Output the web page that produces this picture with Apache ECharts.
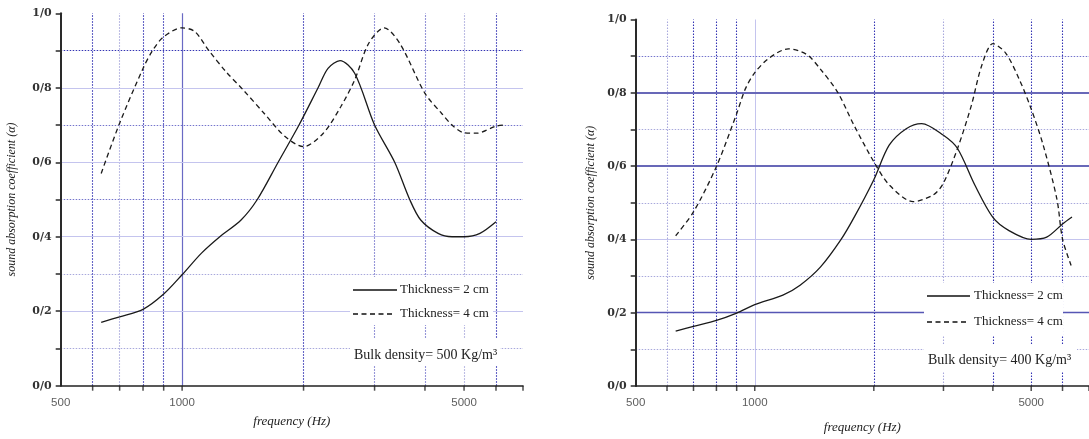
<!DOCTYPE html>
<html>
<head>
<meta charset="utf-8">
<script src="https://cdn.jsdelivr.net/npm/echarts@6/dist/echarts.min.js"></script>
<style>html,body{margin:0;padding:0;background:#fff;}#c{width:1089px;height:439px;}</style>
</head>
<body>
<div id="c"></div>
<script>
// ---- data ----
const freqTicks = [600, 700, 800, 900, 1000, 2000, 3000, 4000, 5000, 6000, 7000];
const freqLabels = [500, 1000, 5000];
const gridFreqs = [600, 700, 800, 900, 1000, 2000, 3000, 4000, 5000, 6000];
const gridAlphas = [0.1, 0.2, 0.3, 0.4, 0.5, 0.6, 0.7, 0.8, 0.9];

const leftFreq2  = [630, 700, 800, 900, 1000, 1117, 1240, 1400, 1536, 1730, 1949, 2173, 2300, 2463, 2678, 3000, 3365, 3666, 3904, 4312, 4668, 5000, 5475, 6000];
const leftAlpha2 = [0.170, 0.185, 0.205, 0.246, 0.298, 0.356, 0.400, 0.445, 0.500, 0.600, 0.700, 0.800, 0.852, 0.873, 0.839, 0.700, 0.600, 0.500, 0.445, 0.409, 0.400, 0.400, 0.409, 0.440];
const leftFreq4  = [630, 700, 800, 846, 900, 1000, 1075, 1163, 1285, 1418, 1598, 1800, 2000, 2239, 2473, 2678, 2900, 3170, 3466, 4000, 4400, 4668, 5000, 5366, 6000, 6250];
const leftAlpha4 = [0.570, 0.705, 0.852, 0.901, 0.937, 0.961, 0.951, 0.901, 0.843, 0.794, 0.731, 0.669, 0.642, 0.678, 0.749, 0.821, 0.919, 0.961, 0.919, 0.785, 0.731, 0.700, 0.679, 0.678, 0.697, 0.700];

const rightFreq2  = [631, 700, 800, 900, 1000, 1178, 1302, 1467, 1653, 1783, 2000, 2187, 2415, 2642, 3000, 3256, 3598, 4000, 4393, 5000, 5471, 6000, 6340];
const rightAlpha2 = [0.150, 0.163, 0.179, 0.199, 0.222, 0.248, 0.275, 0.325, 0.400, 0.460, 0.563, 0.657, 0.702, 0.716, 0.684, 0.648, 0.549, 0.460, 0.424, 0.400, 0.406, 0.442, 0.461];
const rightFreq4  = [631, 700, 800, 900, 946, 1000, 1088, 1216, 1355, 1467, 1621, 1783, 2000, 2187, 2513, 2832, 3000, 3256, 3528, 3745, 4000, 4305, 4663, 5000, 5362, 5807, 6000, 6308];
const rightAlpha4 = [0.410, 0.475, 0.599, 0.743, 0.810, 0.855, 0.895, 0.920, 0.904, 0.864, 0.801, 0.711, 0.612, 0.549, 0.503, 0.522, 0.554, 0.648, 0.765, 0.873, 0.934, 0.909, 0.837, 0.756, 0.657, 0.510, 0.401, 0.329];

const legend2 = 'Thickness= 2 cm';
const legend4 = 'Thickness= 4 cm';
const densityLeft = 'Bulk density= 500 Kg/m³';
const densityRight = 'Bulk density= 400 Kg/m³';
const xName = 'frequency (Hz)';
const yName = 'sound absorption coefficient (α)';

// ---- styles ----
const ST = {
  dk:  {color: '#3434b4', type: [1.5, 1.5], width: 1.1},
  md:  {color: '#7474cc', type: [1.5, 1.5], width: 1.1},
  lt:  {color: '#a8a8dc', type: [1.5, 1.5], width: 1.1},
  sl:  {color: '#c4c4ee', type: 'solid', width: 1},
  sm:  {color: '#6a6ac4', type: 'solid', width: 1.2},
  sb:  {color: '#6868b8', type: 'solid', width: 2},
  sd:  {color: '#5656b4', type: 'solid', width: 1.3}
};
const leftV  = ['dk', 'lt', 'dk', 'dk', 'sm', 'dk', 'md', 'md', 'lt', 'dk'];
const leftH  = ['lt', 'sl', 'lt', 'sl', 'md', 'sl', 'md', 'sl', 'dk'];
const rightV = ['lt', 'dk', 'dk', 'dk', 'sl', 'dk', 'lt', 'dk', 'dk', 'dk'];
const rightH = ['lt', 'sd', 'lt', 'sl', 'lt', 'sb', 'lt', 'sb', 'md'];

function zip(a, b) { return a.map((v, i) => [v, b[i]]); }

function mkX(i, gap) {
  return {
    type: 'log', logBase: 10, gridIndex: i, min: 500, max: 7000, z: 6,
    axisLine: {show: true, lineStyle: {color: '#222', width: 1.5}},
    axisTick: {show: false}, axisLabel: {show: false},
    splitLine: {show: false}, minorSplitLine: {show: false},
    name: xName, nameLocation: 'middle', nameGap: gap,
    nameTextStyle: {fontFamily: 'Liberation Serif', fontStyle: 'italic', fontSize: 13, color: '#222'}
  };
}
function mkY(i, gap) {
  return {
    type: 'value', gridIndex: i, min: 0, max: 1, interval: 0.2, z: 6,
    axisLine: {show: true, lineStyle: {color: '#2a2a2a', width: 2}},
    axisTick: {show: true, length: 5, lineStyle: {color: '#2a2a2a', width: 1.5}},
    minorTick: {show: true, splitNumber: 2, length: 5, lineStyle: {color: '#2a2a2a', width: 1.5}},
    axisLabel: {
      formatter: v => v.toFixed(1).replace('.', '/'),
      fontFamily: 'DejaVu Serif', fontWeight: 'bold', fontSize: 11, color: '#333', margin: 9
    },
    splitLine: {show: false},
    name: yName, nameLocation: 'middle', nameGap: gap,
    nameTextStyle: {fontFamily: 'Liberation Serif', fontStyle: 'italic', fontSize: 12, color: '#222'}
  };
}
function gridSeries(i, vSt, hSt) {
  const lines = [];
  gridFreqs.forEach((f, k) => lines.push({xAxis: f, lineStyle: ST[vSt[k]]}));
  gridAlphas.forEach((a, k) => lines.push({yAxis: a, lineStyle: ST[hSt[k]]}));
  return {
    type: 'scatter', xAxisIndex: i, yAxisIndex: i, silent: true, clip: false, z: 1,
    data: freqTicks.map(f => [f, 0]),
    symbol: 'rect', symbolSize: [1.5, 5], symbolOffset: [0, 2.5],
    itemStyle: {color: '#222'},
    markLine: {silent: true, symbol: 'none', animation: false, z: 1, label: {show: false},
      emphasis: {disabled: true}, data: lines}
  };
}
function labelSeries(i) {
  return {
    type: 'scatter', xAxisIndex: i, yAxisIndex: i, silent: true, clip: false, z: 6,
    data: freqLabels.map(f => [f, 0]), symbolSize: 0.1,
    itemStyle: {color: 'rgba(0,0,0,0)'},
    label: {show: true, position: 'bottom', distance: 11, formatter: p => String(p.value[0]),
      fontFamily: 'Liberation Sans', fontSize: 11.5, color: '#333'}
  };
}
function curve(i, f, a, dashed) {
  return {
    type: 'line', xAxisIndex: i, yAxisIndex: i, data: zip(f, a), smooth: 0.3,
    showSymbol: false, symbol: 'none', silent: true, z: 5,
    lineStyle: {color: '#1a1a1a', width: 1.3, type: dashed ? [5, 3.5] : 'solid'}
  };
}
function legendGraphics(x0, y1, y2, y3, sampleEnd, textX, dens, box1, box2) {
  const font13 = '13px "Liberation Serif"';
  const font14 = '14px "Liberation Serif"';
  return [
    {type: 'rect', z: 3, shape: box1, style: {fill: '#fff'}},
    {type: 'rect', z: 3, shape: box2, style: {fill: '#fff'}},
    {type: 'line', z: 10, shape: {x1: x0, y1: y1, x2: sampleEnd, y2: y1}, style: {stroke: '#111', lineWidth: 1.4}},
    {type: 'line', z: 10, shape: {x1: x0, y1: y2, x2: sampleEnd - 2, y2: y2}, style: {stroke: '#111', lineWidth: 1.4, lineDash: [5, 3.5]}},
    {type: 'text', z: 10, x: textX, y: y1, style: {text: legend2, font: font13, fill: '#222', verticalAlign: 'middle'}},
    {type: 'text', z: 10, x: textX, y: y2, style: {text: legend4, font: font13, fill: '#222', verticalAlign: 'middle'}},
    {type: 'text', z: 10, x: x0 + 1, y: y3, style: {text: dens, font: font14, fill: '#222', verticalAlign: 'middle'}}
  ];
}

const chart = echarts.init(document.getElementById('c'), null, {renderer: 'canvas'});
chart.setOption({
  animation: false,
  backgroundColor: '#fff',
  grid: [
    {left: 60.7, top: 13.3, width: 462.3, height: 372.4},
    {left: 635.7, top: 19.5, width: 458.4, height: 371}
  ],
  xAxis: [mkX(0, 29), mkX(1, 35)],
  yAxis: [mkY(0, 43), mkY(1, 39)],
  series: [
    gridSeries(0, leftV, leftH),
    gridSeries(1, rightV, rightH),
    labelSeries(0),
    labelSeries(1),
    curve(0, leftFreq2, leftAlpha2, false),
    curve(0, leftFreq4, leftAlpha4, true),
    curve(1, rightFreq2, rightAlpha2, false),
    curve(1, rightFreq4, rightAlpha4, true)
  ],
  graphic: [].concat(
    legendGraphics(353, 290, 314, 355, 397, 400, densityLeft,
      {x: 350, y: 277, width: 143, height: 48}, {x: 350, y: 339, width: 150, height: 27}),
    legendGraphics(927, 296, 322, 360, 970, 974, densityRight,
      {x: 924, y: 283, width: 139, height: 52}, {x: 924, y: 345, width: 153, height: 27})
  )
});
</script>
</body>
</html>
